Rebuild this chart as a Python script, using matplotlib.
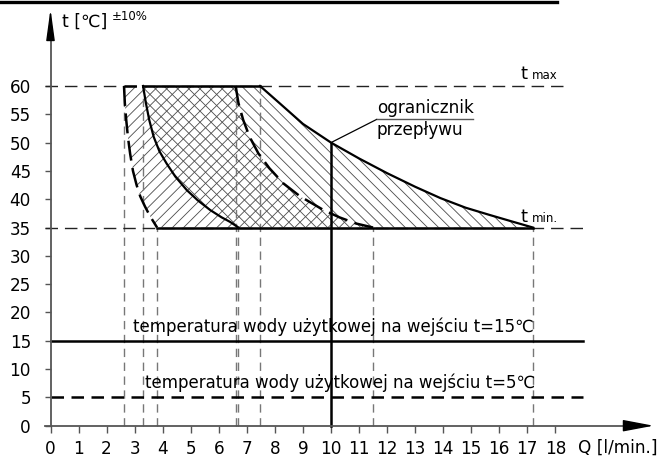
import numpy as np
import matplotlib
matplotlib.use("Agg")
import matplotlib.pyplot as plt
from matplotlib.lines import Line2D

plt.rcParams['font.family'] = ['DejaVu Sans']
plt.rcParams['hatch.linewidth'] = 0.6

# ---------------- data ----------------
x_ticks = list(range(0, 19))
y_ticks = list(range(0, 61, 5))

t_max = 60
t_min = 35
t_in_high = 15
t_in_low = 5
q_limiter = 10
t_limiter = 50

# left dashed boundary (outer, tolerance)
ld_q = [2.62, 2.65, 2.70, 2.76, 2.84, 2.94, 3.07, 3.20, 3.37, 3.55, 3.80]
ld_t = [60, 57, 54, 51, 48, 45, 42.5, 40.5, 38.7, 37, 35]
# left solid boundary
ls_q = [3.30, 3.40, 3.52, 3.68, 3.88, 4.14, 4.45, 4.86, 5.25, 5.69, 6.10, 6.40, 6.70]
ls_t = [60, 57, 54, 51, 48.5, 46.3, 44, 41.6, 39.8, 38.1, 36.8, 36, 35]
# right dashed boundary
rd_q = [6.60, 6.70, 6.87, 7.10, 7.41, 7.80, 8.30, 8.90, 9.73, 10.30, 10.90, 11.50]
rd_t = [60, 57, 54, 51, 48.1, 45.5, 42.8, 40.5, 38.1, 36.8, 35.7, 35]
# right solid boundary
rs_q = [7.47, 8.18, 9.00, 10.00, 11.00, 12.00, 13.00, 13.90, 14.80, 15.67, 16.50, 17.20]
rs_t = [60, 56.9, 53.3, 50, 47.2, 44.6, 42.2, 40.2, 38.5, 37.2, 36, 35]

# guide verticals
v_to_max = [2.62, 3.30, 6.60, 7.47]
v_to_min = [3.80, 6.70, 11.50, 17.20]

label_t15 = "temperatura wody użytkowej na wejściu t=15℃"
label_t5 = "temperatura wody użytkowej na wejściu t=5℃"

# ---------------- figure ----------------
W, H = 657, 457
fig = plt.figure(figsize=(W / 100, H / 100), dpi=100)
ax = fig.add_axes([0, 0, 1, 1])
x0px, xunit = 50.5, 28.05
y0px, yunit = 425.7, 5.662
ax.set_xlim(-x0px / xunit, (W - x0px) / xunit)
ax.set_ylim(-(H - y0px) / yunit, y0px / yunit)

# regions
ax.fill(ld_q + rd_q[::-1], ld_t + rd_t[::-1], facecolor='none',
        edgecolor='#4a4a4a', hatch='///', linewidth=0)
ax.fill(ls_q + rs_q[::-1], ls_t + rs_t[::-1], facecolor='none',
        edgecolor='#4a4a4a', hatch='\\\\\\', linewidth=0)

# guide verticals
for q in v_to_max:
    ax.plot([q, q], [0, t_max], color='#777777', lw=1.0, dashes=(6, 4))
for q in v_to_min:
    ax.plot([q, q], [0, t_min], color='#777777', lw=1.0, dashes=(6, 4))

# tmax / tmin dashed horizontals
ax.plot([-0.2, 18.27], [t_max, t_max], color='#222222', lw=1.0, dashes=(9, 5))
ax.plot([-0.2, 19.16], [t_min, t_min], color='#222222', lw=1.0, dashes=(9, 5))

# boundaries
ax.plot(ld_q, ld_t, color='black', lw=1.8, dashes=(8, 3))
ax.plot(rd_q, rd_t, color='black', lw=1.8, dashes=(8, 3))
ax.plot(ls_q, ls_t, color='black', lw=1.6)
ax.plot(rs_q, rs_t, color='black', lw=1.6)
ax.plot([ld_q[0], ls_q[0]], [t_max, t_max], color='black', lw=1.8, dashes=(5, 2))
ax.plot([ls_q[0], rs_q[0]], [t_max, t_max], color='black', lw=1.8)
ax.plot([ld_q[-1], rs_q[-1]], [t_min, t_min], color='black', lw=1.8)

# inlet temperature lines
ax.plot([0, 19.0], [t_in_high, t_in_high], color='black', lw=1.8)
ax.plot([0, 19.0], [t_in_low, t_in_low], color='black', lw=1.8, dashes=(5, 3))

# flow limiter
ax.plot([q_limiter, q_limiter], [0, t_limiter], color='black', lw=1.8)
ax.plot([q_limiter, 11.63], [t_limiter, 54.1], color='black', lw=0.9)
ax.plot([11.63, 15.06], [54.1, 54.1], color='#555555', lw=1.0)
ax.text(11.63, 55.2, "ogranicznik", fontsize=12.2, va='baseline', ha='left')
ax.text(11.63, 51.3, "przepływu", fontsize=12.2, va='baseline', ha='left')

# labels
ax.text(16.77, 61.2, "t", fontsize=13, va='baseline', ha='left')
ax.text(17.15, 61.2, "max", fontsize=8.5, va='baseline', ha='left')
ax.text(16.77, 36.0, "t", fontsize=13, va='baseline', ha='left')
ax.text(17.15, 36.0, "min.", fontsize=8.5, va='baseline', ha='left')

ax.text(2.94, 16.5, label_t15, fontsize=12, va='baseline', ha='left')
ax.text(3.37, 6.7, label_t5, fontsize=12, va='baseline', ha='left')

ax.text(0.40, 71.4, "t [℃]", fontsize=12.5, va='center', ha='left')
ax.text(2.18, 72.3, "±10%", fontsize=8.5, va='center', ha='left')
ax.text(18.81, -4.75, "Q [l/min.]", fontsize=12.2, va='baseline', ha='left')

# axes
for s in ['top', 'right']:
    ax.spines[s].set_visible(False)
ax.spines['left'].set_position(('data', 0))
ax.spines['bottom'].set_position(('data', 0))
ax.spines['left'].set_bounds(0, 69.0)
ax.spines['bottom'].set_bounds(-0.2, 20.6)
for s in ['left', 'bottom']:
    ax.spines[s].set_color('#555555')
    ax.spines[s].set_linewidth(1.3)
ax.set_xticks(x_ticks)
ax.set_yticks(y_ticks)
ax.set_xticklabels([str(v) for v in x_ticks])
ax.set_yticklabels([str(v) for v in y_ticks])
ax.tick_params(axis='x', direction='out', length=5, width=1.0, color='#555555',
               pad=5.5, labelsize=12.2)
ax.tick_params(axis='y', direction='out', length=4, width=1.0, color='#555555',
               pad=10, labelsize=12.2)

# arrowheads
ax.annotate('', xy=(0, 73.6), xytext=(0, 68.8),
            arrowprops=dict(arrowstyle='-|>,head_length=1.9,head_width=0.26',
                            color='black', lw=1, shrinkA=0, shrinkB=0),
            annotation_clip=False)
ax.annotate('', xy=(21.5, 0), xytext=(20.5, 0),
            arrowprops=dict(arrowstyle='-|>,head_length=1.9,head_width=0.36',
                            color='black', lw=1, shrinkA=0, shrinkB=0),
            annotation_clip=False)

# top border rule
fig.add_artist(Line2D([0, 557 / W], [1 - 1.7 / H, 1 - 1.7 / H],
                      color='black', lw=2.4, transform=fig.transFigure))

fig.savefig('out.png', dpi=100)
